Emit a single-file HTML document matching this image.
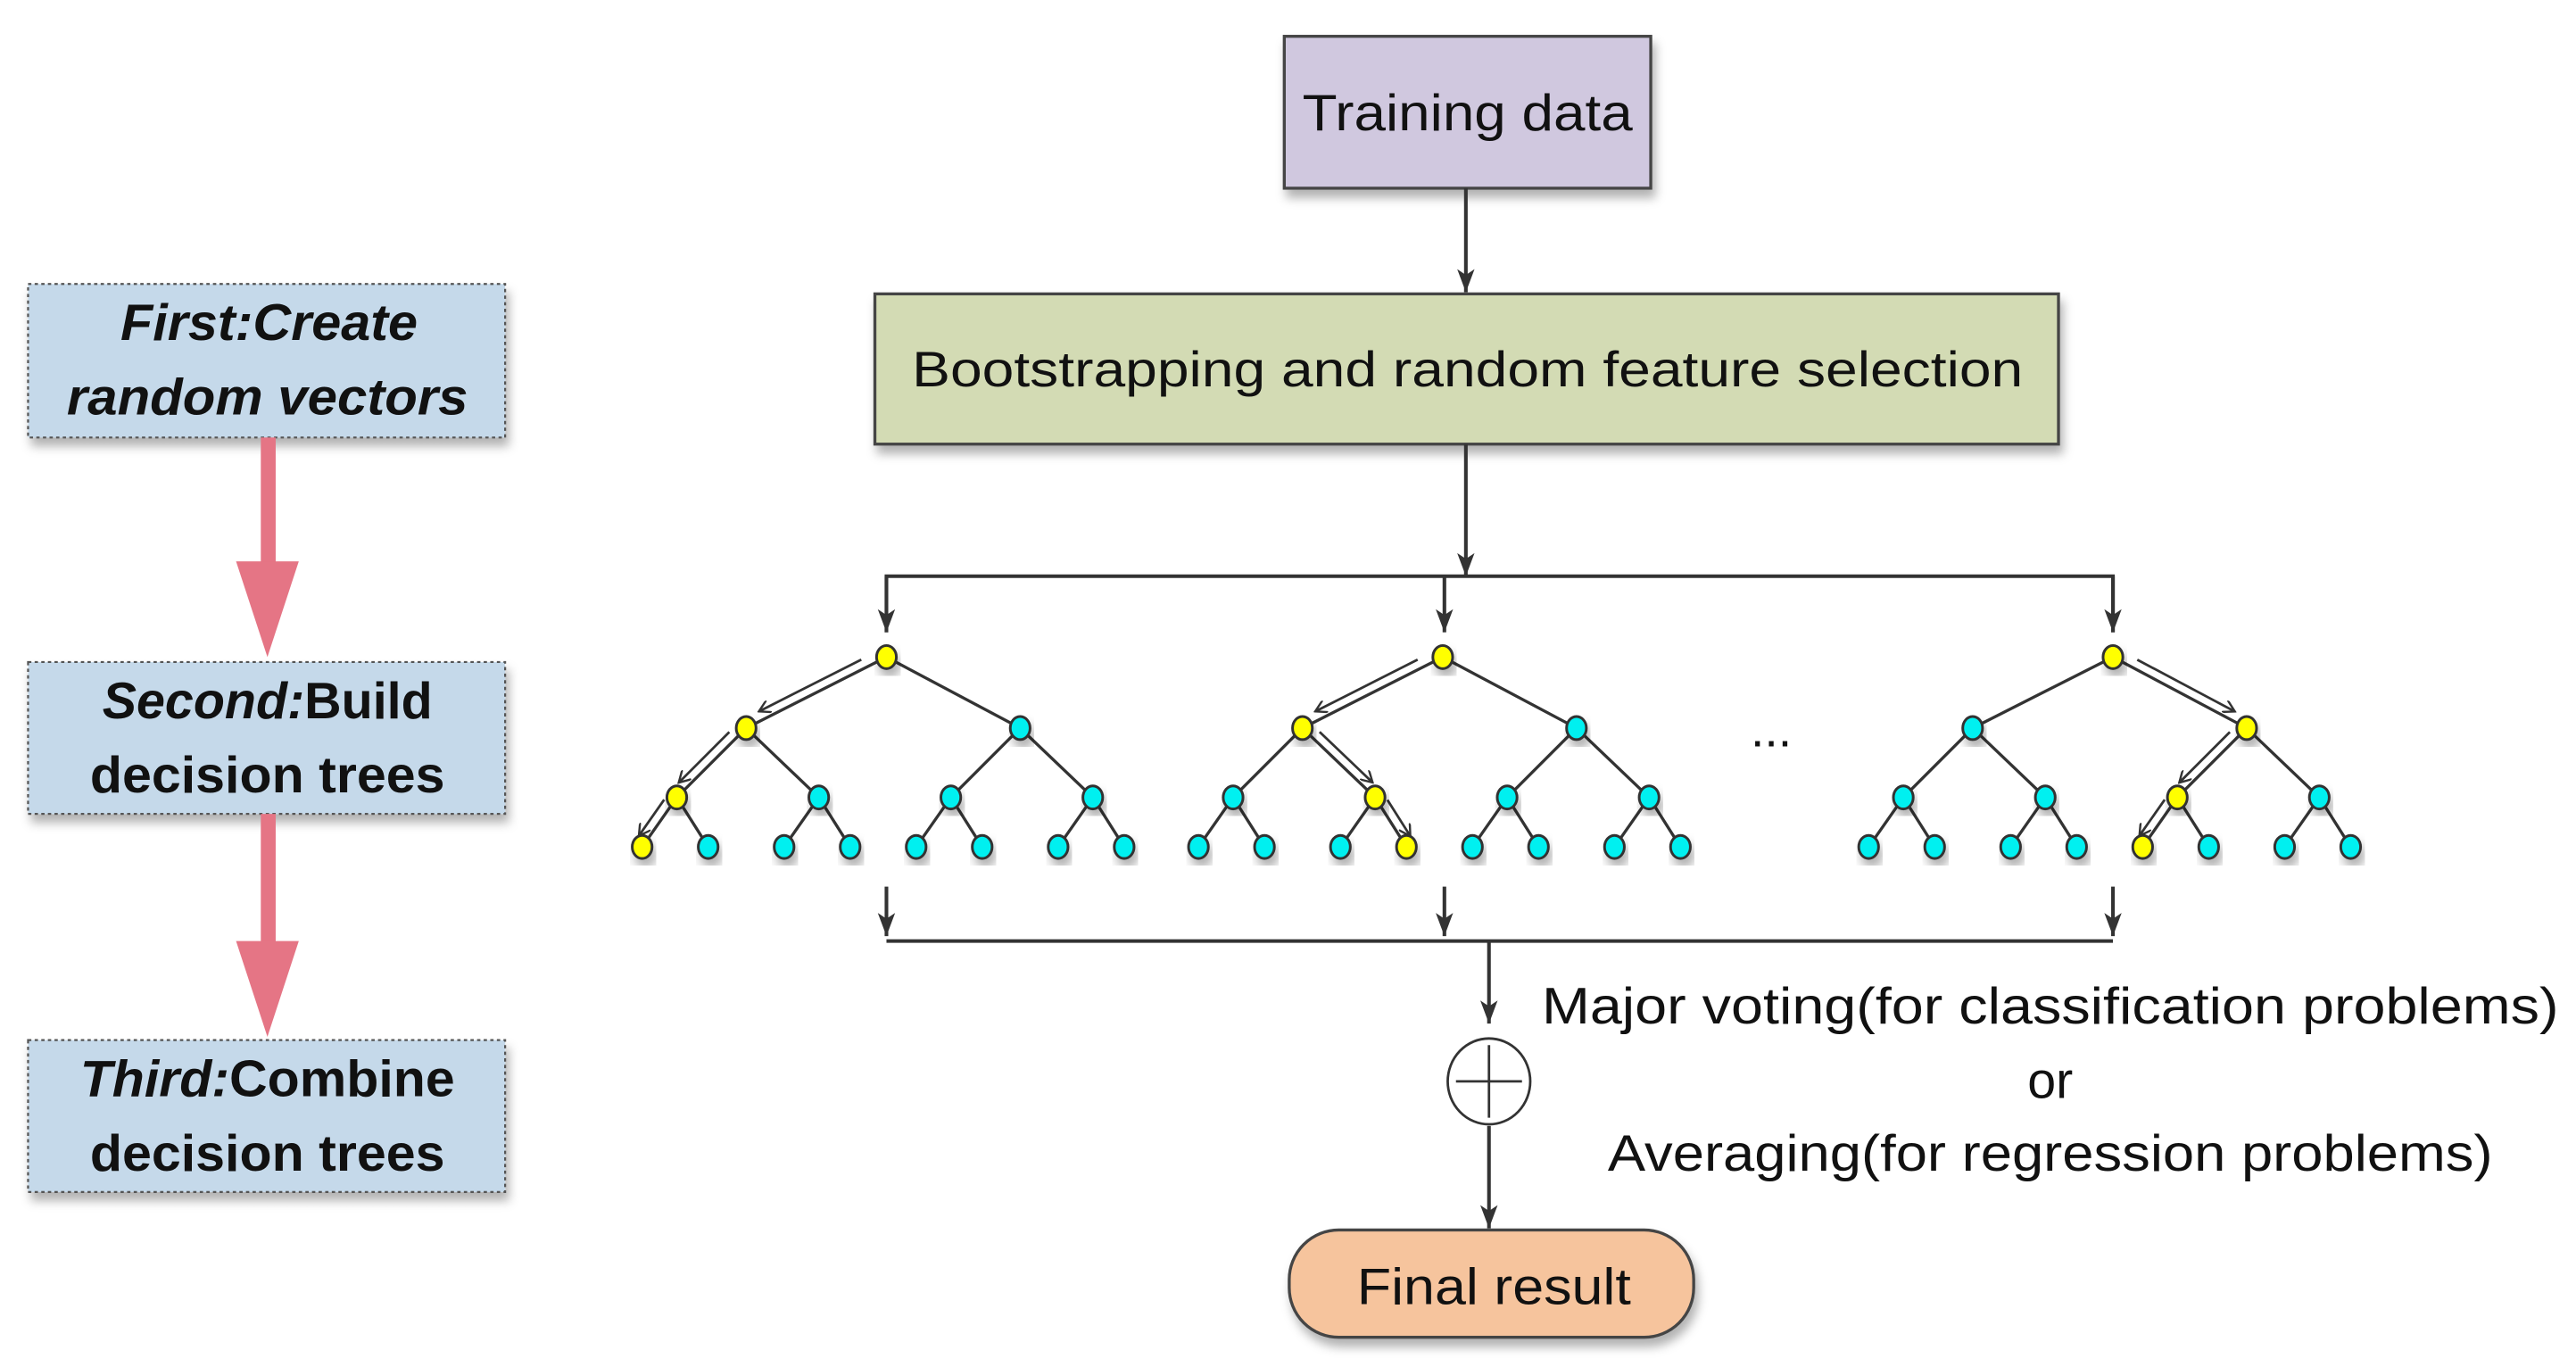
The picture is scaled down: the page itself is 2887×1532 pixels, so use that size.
<!DOCTYPE html>
<html><head><meta charset="utf-8"><style>
html,body{margin:0;padding:0;background:#fff;}
svg{display:block;}
text{font-family:"Liberation Sans",sans-serif;fill:#111;}
</style></head><body>
<svg id="s" width="2887" height="1532" viewBox="0 0 1560.5 828" preserveAspectRatio="none" xmlns="http://www.w3.org/2000/svg">
<defs>
<filter id="sh" x="-10%" y="-10%" width="130%" height="140%"><feDropShadow dx="2" dy="5" stdDeviation="3" flood-color="#000" flood-opacity="0.3"/></filter>
<marker id="ah" markerWidth="14" markerHeight="16" refX="16" refY="6" orient="auto" markerUnits="userSpaceOnUse" viewBox="0 0 16 12"><path d="M0,0 L16,6 L0,12 L4,6 Z" fill="#333"/></marker>
<marker id="oh" markerWidth="8" markerHeight="8" refX="7" refY="4" orient="auto" markerUnits="userSpaceOnUse"><path d="M0,0 L7,4 L0,8" fill="none" stroke="#333" stroke-width="1.3"/></marker>
</defs>
<g filter="url(#sh)">
<rect x="17" y="172" width="289" height="93" fill="#C5D9EA" stroke="#555" stroke-width="1.2" stroke-dasharray="2,2"/>
<rect x="17" y="401" width="289" height="92" fill="#C5D9EA" stroke="#555" stroke-width="1.2" stroke-dasharray="2,2"/>
<rect x="17" y="630" width="289" height="92" fill="#C5D9EA" stroke="#555" stroke-width="1.2" stroke-dasharray="2,2"/>
</g>
<text x="163" y="206" font-size="31" font-weight="bold" font-style="italic" text-anchor="middle" textLength="180" lengthAdjust="spacingAndGlyphs">First:Create</text>
<text x="162" y="251" font-size="31" font-weight="bold" font-style="italic" text-anchor="middle" textLength="243" lengthAdjust="spacingAndGlyphs">random vectors</text>
<text x="162" y="435" font-size="31" font-weight="bold" text-anchor="middle" textLength="200" lengthAdjust="spacingAndGlyphs"><tspan font-style="italic">Second:</tspan>Build</text>
<text x="162" y="480" font-size="31" font-weight="bold" text-anchor="middle" textLength="215" lengthAdjust="spacingAndGlyphs">decision trees</text>
<text x="162" y="664" font-size="31" font-weight="bold" text-anchor="middle" textLength="227" lengthAdjust="spacingAndGlyphs"><tspan font-style="italic">Third:</tspan>Combine</text>
<text x="162" y="709" font-size="31" font-weight="bold" text-anchor="middle" textLength="215" lengthAdjust="spacingAndGlyphs">decision trees</text>
<rect x="158" y="265" width="9" height="77" fill="#E57585"/>
<polygon points="143,340 181,340 162,398" fill="#E57585"/>
<rect x="158" y="493" width="9" height="79" fill="#E57585"/>
<polygon points="143,570 181,570 162,628" fill="#E57585"/>
<g filter="url(#sh)">
<rect x="778" y="22" width="222" height="92" fill="#D0C8DF" stroke="#444" stroke-width="1.8"/>
<rect x="530" y="178" width="717" height="91" fill="#D3DBB4" stroke="#444" stroke-width="1.8"/>
<rect x="781" y="745" width="245" height="65" rx="30" fill="#F6C49D" stroke="#444" stroke-width="1.8"/>
</g>
<text x="889" y="79" font-size="31" text-anchor="middle" textLength="200" lengthAdjust="spacingAndGlyphs">Training data</text>
<text x="889" y="234" font-size="30" text-anchor="middle" textLength="673" lengthAdjust="spacingAndGlyphs">Bootstrapping and random feature selection</text>
<text x="905" y="790" font-size="31" text-anchor="middle" textLength="166" lengthAdjust="spacingAndGlyphs">Final result</text>
<g stroke="#333" stroke-width="2.2" fill="none">
<line x1="888" y1="114" x2="888" y2="177" marker-end="url(#ah)"/>
<line x1="888" y1="269" x2="888" y2="349" marker-end="url(#ah)"/>
<polyline points="537,383 537,349 1280,349 1280,383" />
<line x1="537" y1="349" x2="537" y2="383" marker-end="url(#ah)"/>
<line x1="875" y1="349" x2="875" y2="383" marker-end="url(#ah)"/>
<line x1="1280" y1="349" x2="1280" y2="383" marker-end="url(#ah)"/>
<line x1="537" y1="537" x2="537" y2="567" marker-end="url(#ah)"/>
<line x1="875" y1="537" x2="875" y2="567" marker-end="url(#ah)"/>
<line x1="1280" y1="537" x2="1280" y2="567" marker-end="url(#ah)"/>
<line x1="537" y1="570" x2="1280" y2="570"/>
<line x1="902" y1="570" x2="902" y2="620" marker-end="url(#ah)"/>
<line x1="902" y1="682" x2="902" y2="744" marker-end="url(#ah)"/>
<ellipse cx="902" cy="655" rx="25" ry="26" stroke-width="1.5"/>
<line x1="882" y1="655" x2="922" y2="655" stroke-width="1.5"/>
<line x1="902" y1="633" x2="902" y2="677" stroke-width="1.5"/>
</g>
<text x="1242" y="620" font-size="31" text-anchor="middle" textLength="616" lengthAdjust="spacingAndGlyphs">Major voting(for classification problems)</text>
<text x="1242" y="665" font-size="31" text-anchor="middle">or</text>
<text x="1242" y="709" font-size="31" text-anchor="middle" textLength="536" lengthAdjust="spacingAndGlyphs">Averaging(for regression problems)</text>
<text x="1073" y="452" font-size="30" text-anchor="middle">...</text>
<g id="trees"></g>
</svg>
<script>
(function(){
var NS="http://www.w3.org/2000/svg",g=document.getElementById("trees");
function el(n,a){var e=document.createElementNS(NS,n);for(var k in a)e.setAttribute(k,a[k]);g.appendChild(e);return e;}
var roots=[537,874,1280];
var paths=[[0,0,0],[0,1,1],[1,0,0]];
roots.forEach(function(r,t){
  var l2=[r-85,r+81],l3=[],lv=[];
  l2.forEach(function(x){l3.push(x-42,x+44);});
  l3.forEach(function(x){lv.push(x-21,x+19);});
  var yel={};
  var p=paths[t];
  var i2=p[0],i3=i2*2+p[1],i4=i3*2+p[2];
  yel["0_0"]=1;yel["1_"+i2]=1;yel["2_"+i3]=1;yel["3_"+i4]=1;
  var levels=[[r],l2,l3,lv],ys=[398,441,483,513];
  for(var L=1;L<4;L++)levels[L].forEach(function(x,i){
    var px=levels[L-1][Math.floor(i/2)];
    el("line",{x1:px,y1:ys[L-1],x2:x,y2:ys[L],stroke:"#333","stroke-width":1.8});
    if(yel[(L-1)+"_"+Math.floor(i/2)]&&yel[L+"_"+i]){
      var dx=x-px,dy=ys[L]-ys[L-1],len=Math.sqrt(dx*dx+dy*dy),ux=dx/len,uy=dy/len;
      var nx,ny;if(dx<0){nx=-uy;ny=ux;}else{nx=uy;ny=-ux;}
      var o=5.5;
      var sx=px+dx*0.15+nx*o,sy=ys[L-1]+dy*0.15+ny*o,ex=px+dx*0.88+nx*o,ey=ys[L-1]+dy*0.88+ny*o;
      el("line",{x1:sx,y1:sy,x2:ex,y2:ey,stroke:"#333","stroke-width":1.5,"marker-end":"url(#oh)"});
    }
  });
  for(var L=0;L<4;L++)levels[L].forEach(function(x,i){
    el("ellipse",{cx:x,cy:ys[L],rx:6,ry:7,fill:yel[L+"_"+i]?"#FFFF00":"#00F0F0",stroke:"#333","stroke-width":1.6,filter:"url(#sh)"});
  });
});
})();
</script>
</body></html>
